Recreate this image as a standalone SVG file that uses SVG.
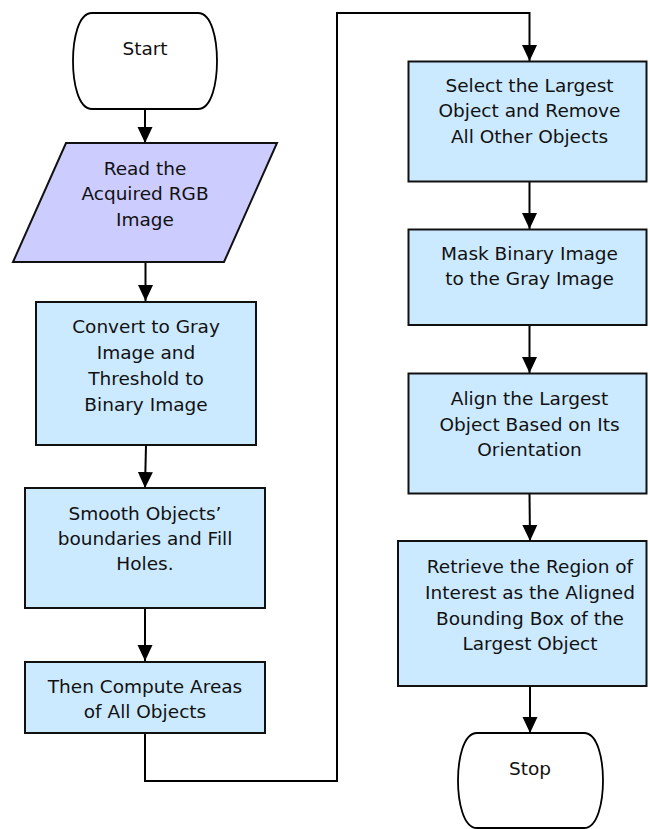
<svg xmlns="http://www.w3.org/2000/svg" width="650" height="829" viewBox="0 0 650 829">
  <defs>
    <marker id="arrow" viewBox="0 0 16 16" refX="16" refY="8" markerWidth="16" markerHeight="16" markerUnits="userSpaceOnUse" orient="auto">
      <path d="M0,0.5 L16,8 L0,15.5 Z" fill="#000"/>
    </marker>
    <style>
      .term { fill: #ffffff; stroke: #000; stroke-width: 1.8; }
      .io { fill: #ccccff; stroke: #111; stroke-width: 2; }
      .proc { fill: #cceaff; stroke: #111; stroke-width: 2; }
      .conn { fill: none; stroke: #000; stroke-width: 2; }
      .lbl { font-family: "DejaVu Sans", Verdana, sans-serif; font-size: 18.5px; fill: #111; text-anchor: middle; }
    </style>
  </defs>
  <rect width="650" height="829" fill="#ffffff"/>

  <!-- connectors -->
  <g id="connectors">
    <line class="conn" x1="145" y1="109" x2="145" y2="143" marker-end="url(#arrow)"/>
    <line class="conn" x1="145.5" y1="262" x2="145.5" y2="301" marker-end="url(#arrow)"/>
    <line class="conn" x1="146" y1="445" x2="145" y2="488" marker-end="url(#arrow)"/>
    <line class="conn" x1="145" y1="608" x2="145" y2="661" marker-end="url(#arrow)"/>
    <polyline class="conn" points="145,733 145,781 337,781 337,13 529.5,13 529.5,61" marker-end="url(#arrow)"/>
    <line class="conn" x1="529.5" y1="182" x2="529.5" y2="229" marker-end="url(#arrow)"/>
    <line class="conn" x1="529.5" y1="325" x2="529.5" y2="373" marker-end="url(#arrow)"/>
    <line class="conn" x1="529.5" y1="493" x2="530" y2="541" marker-end="url(#arrow)"/>
    <line class="conn" x1="530" y1="686" x2="530" y2="733" marker-end="url(#arrow)"/>
  </g>

  <!-- Start terminal -->
  <g id="start">
    <path class="term" d="M92,13 H198 C212,13 217,40 217,61 C217,82 212,109 198,109 H92 C78,109 73,82 73,61 C73,40 78,13 92,13 Z"/>
    <text class="lbl" x="145" y="55">Start</text>
  </g>

  <!-- Input -->
  <g id="read-image">
    <polygon class="io" points="66,143 277,143 224,262 13,262"/>
    <text class="lbl" x="145" y="175">Read the</text>
    <text class="lbl" x="145" y="200">Acquired RGB</text>
    <text class="lbl" x="145" y="225.5">Image</text>
  </g>

  <g id="gray-threshold">
    <rect class="proc" x="36" y="302" width="220" height="143"/>
    <text class="lbl" x="146" y="333">Convert to Gray</text>
    <text class="lbl" x="146" y="359">Image and</text>
    <text class="lbl" x="146" y="385">Threshold to</text>
    <text class="lbl" x="146" y="411">Binary Image</text>
  </g>

  <g id="smooth-fill">
    <rect class="proc" x="25" y="488" width="240" height="120"/>
    <text class="lbl" x="145" y="520">Smooth Objects’</text>
    <text class="lbl" x="145" y="545">boundaries and Fill</text>
    <text class="lbl" x="145" y="570">Holes.</text>
  </g>

  <g id="compute-areas">
    <rect class="proc" x="25" y="662" width="240" height="71"/>
    <text class="lbl" x="145" y="693">Then Compute Areas</text>
    <text class="lbl" x="145" y="718">of All Objects</text>
  </g>

  <g id="select-largest">
    <rect class="proc" x="408.5" y="61.5" width="238" height="120"/>
    <text class="lbl" x="529.5" y="92">Select the Largest</text>
    <text class="lbl" x="529.5" y="117">Object and Remove</text>
    <text class="lbl" x="529.5" y="142.5">All Other Objects</text>
  </g>

  <g id="mask-gray">
    <rect class="proc" x="408.5" y="229.5" width="238" height="95.5"/>
    <text class="lbl" x="529.5" y="260">Mask Binary Image</text>
    <text class="lbl" x="529.5" y="285">to the Gray Image</text>
  </g>

  <g id="align-object">
    <rect class="proc" x="408.5" y="373.5" width="238" height="120"/>
    <text class="lbl" x="529.5" y="405">Align the Largest</text>
    <text class="lbl" x="529.5" y="430.5">Object Based on Its</text>
    <text class="lbl" x="529.5" y="456">Orientation</text>
  </g>

  <g id="retrieve-roi">
    <rect class="proc" x="398" y="541" width="248.5" height="145"/>
    <text class="lbl" x="530" y="573">Retrieve the Region of</text>
    <text class="lbl" x="530" y="598.5">Interest as the Aligned</text>
    <text class="lbl" x="530" y="624.5">Bounding Box of the</text>
    <text class="lbl" x="530" y="650">Largest Object</text>
  </g>

  <!-- Stop terminal -->
  <g id="stop">
    <path class="term" d="M477,733 H584 C598,733 603,760 603,780.5 C603,801 598,828 584,828 H477 C463,828 458,801 458,780.5 C458,760 463,733 477,733 Z"/>
    <text class="lbl" x="530" y="775">Stop</text>
  </g>
</svg>
